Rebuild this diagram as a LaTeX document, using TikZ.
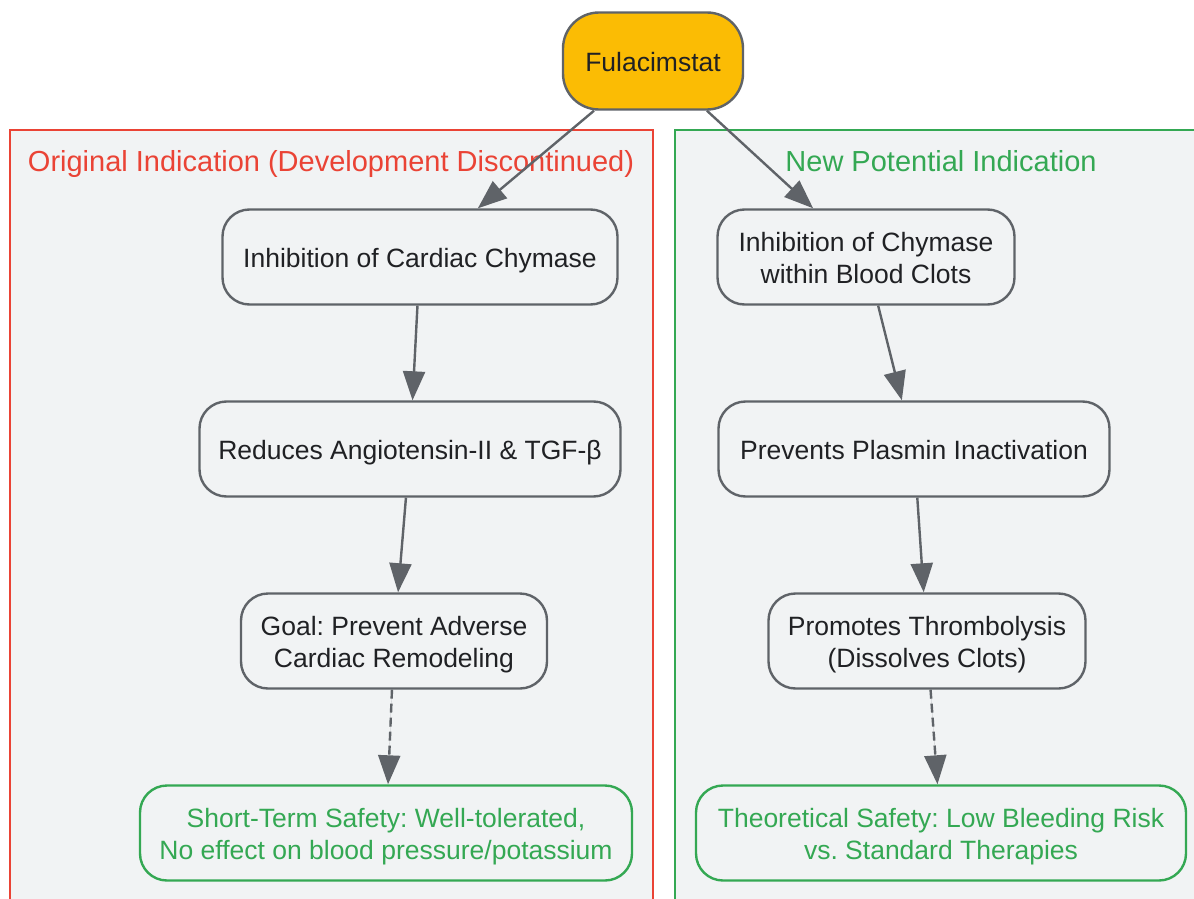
\documentclass[tikz,border=0pt]{standalone}
\usepackage{fontspec}
\setmainfont{Liberation Sans}
\usetikzlibrary{shapes,arrows,arrows.meta,positioning,calc}
\frenchspacing

\definecolor{edgegrey}{HTML}{5F6368}
\definecolor{panelgrey}{HTML}{F1F3F4}
\definecolor{drugyellow}{HTML}{FBBC04}
\definecolor{stopred}{HTML}{EA4335}
\definecolor{safegreen}{HTML}{34A853}
\definecolor{inkdark}{HTML}{202124}

\begin{document}
\begin{tikzpicture}[x=1pt, y=-1pt,
  flowbox/.style={rectangle, rounded corners=27pt, draw=edgegrey, line width=2.4pt, fill=panelgrey,
    text=inkdark, minimum height=95pt, font=\fontsize{26.5}{32}\selectfont},
  twoline/.style={align=center, text height=59pt, text depth=5.6pt},
  oneline/.style={text height=27pt, text depth=5.6pt},
  safetybox/.style={flowbox, twoline, draw=safegreen, text=safegreen},
  panel/.style={rectangle, line width=2.8pt, fill=panelgrey},
  paneltitle/.style={text height=29.5pt, text depth=6.1pt, font=\fontsize{29}{34}\selectfont},
  flowarrow/.style={-{Triangle[length=29pt, width=22pt]}, draw=edgegrey, fill=edgegrey, line width=2.4pt},
  maybearrow/.style={flowarrow, dash pattern=on 9pt off 5pt}]
\useasboundingbox (0,0) rectangle (1194,899);

% Indication panels
\draw[panel, draw=stopred] (10,130) rectangle (653,912);
\draw[panel, draw=safegreen] (675,130) rectangle (1206,912);
\node[paneltitle, text=stopred] (origtitle) at (331,160) {Original Indication (Development Discontinued)};
\node[paneltitle, text=safegreen] (newtitle) at (941,160) {New Potential Indication};

% Drug
\node[flowbox, oneline, rounded corners=36pt, fill=drugyellow, minimum width=180pt, minimum height=97pt] (fula) at (653,61) {Fulacimstat};

% Original (cardiac) pathway
\node[flowbox, oneline, minimum width=395pt] (cardchy) at (420,257) {Inhibition of Cardiac Chymase};
\node[flowbox, oneline, minimum width=421pt] (angio) at (410,449) {Reduces Angiotensin-II \& TGF-β};
\node[flowbox, twoline, minimum width=306pt] (remodel) at (394,641) {Goal: Prevent Adverse\\Cardiac Remodeling};
\node[safetybox, minimum width=492pt] (shortsafe) at (386,833) {Short-Term Safety: Well-tolerated,\\No effect on blood pressure/potassium};

% New (thrombolysis) pathway
\node[flowbox, twoline, minimum width=297pt] (clotchy) at (866,257) {Inhibition of Chymase\\within Blood Clots};
\node[flowbox, oneline, minimum width=391pt] (plasmin) at (914,449) {Prevents Plasmin Inactivation};
\node[flowbox, twoline, minimum width=317pt] (lysis) at (927,641) {Promotes Thrombolysis\\(Dissolves Clots)};
\node[safetybox, minimum width=490pt] (theosafe) at (941,833) {Theoretical Safety: Low Bleeding Risk\\vs. Standard Therapies};

% Arrows
\draw[flowarrow] (fula) -- (cardchy);
\draw[flowarrow] (fula) -- (clotchy);
\draw[flowarrow] (cardchy) -- (angio);
\draw[flowarrow] (angio) -- (remodel);
\draw[maybearrow] (remodel) -- (shortsafe);
\draw[flowarrow] (clotchy) -- (plasmin);
\draw[flowarrow] (plasmin) -- (lysis);
\draw[maybearrow] (lysis) -- (theosafe);
\end{tikzpicture}
\end{document}
